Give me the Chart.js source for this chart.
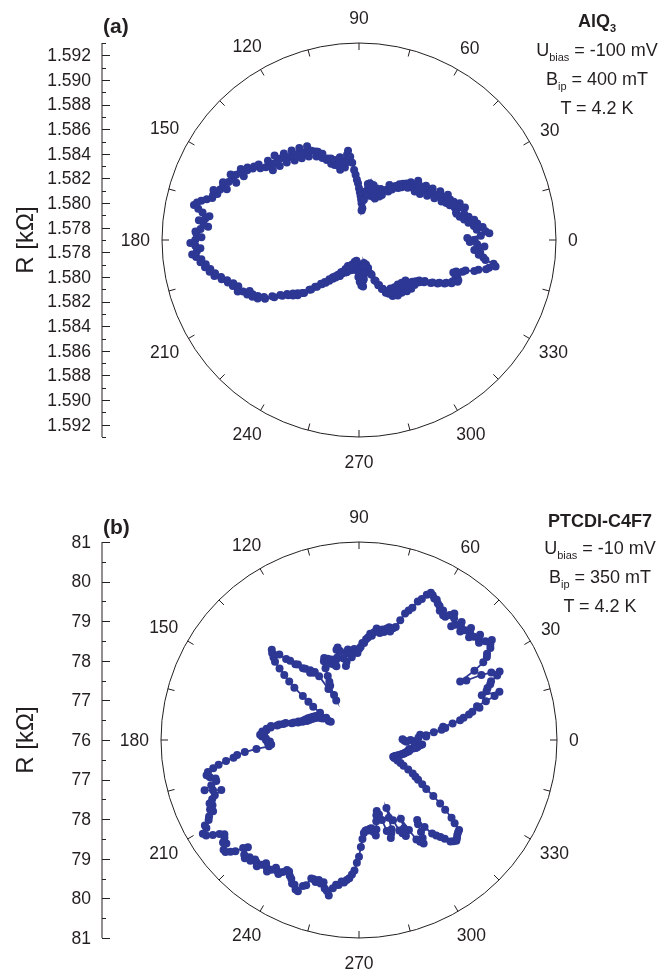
<!DOCTYPE html>
<html>
<head>
<meta charset="utf-8">
<script src="https://cdn.jsdelivr.net/npm/chart.js@4.4.1/dist/chart.umd.min.js"></script>
<style>
  body { margin: 0; background: #fff; }
  #page { position: relative; width: 660px; height: 969px; font-family: "Liberation Sans", Arial, sans-serif; color: #231f20; }
  canvas { position: absolute; left: 0; }
  .tag { position: absolute; font-weight: bold; font-size: 21px; line-height: 24px; }
  .note { position: absolute; width: 160px; text-align: center; font-size: 18px; line-height: 27px; white-space: nowrap; }
  .note sub { font-size: 11px; position: relative; top: 5px; vertical-align: baseline; }
</style>
</head>
<body>
<div id="page">
  <canvas id="chartA" width="660" height="485" style="top:0"></canvas>
  <canvas id="chartB" width="660" height="484" style="top:485px"></canvas>
  <div class="tag" style="left:103px; top:14px">(a)</div>
  <div class="tag" style="left:103px; top:515px">(b)</div>
  <div class="note" style="left:517px; top:8px">
    <b>AlQ<sub>3</sub></b><br>U<sub>bias</sub> = -100 mV<br>B<sub>ip</sub> = 400 mT<br>T = 4.2 K
  </div>
  <div class="note" style="left:520px; top:508px">
    <b>PTCDI-C4F7</b><br>U<sub>bias</sub> = -10 mV<br>B<sub>ip</sub> = 350 mT<br>T = 4.2 K
  </div>
</div>
<script>
// measurement angles (deg), 1 degree steps
const angles = Array.from({ length: 360 }, (_, i) => i);

// (a) AlQ3, R in kOhm, 0..359 deg
const resA = [
  1.5864, 1.5858, 1.5869, 1.5876, 1.5873, 1.5866, 1.5871, 1.5864, 1.5867, 1.5860,
  1.5865, 1.5857, 1.5861, 1.5854, 1.5858, 1.5852, 1.5852, 1.5860, 1.5856, 1.5852,
  1.5857, 1.5849, 1.5853, 1.5847, 1.5851, 1.5844, 1.5848, 1.5851, 1.5846, 1.5840,
  1.5843, 1.5847, 1.5841, 1.5836, 1.5840, 1.5843, 1.5838, 1.5832, 1.5836, 1.5840,
  1.5835, 1.5830, 1.5836, 1.5831, 1.5834, 1.5838, 1.5833, 1.5828, 1.5833, 1.5829,
  1.5830, 1.5825, 1.5828, 1.5823, 1.5826, 1.5822, 1.5823, 1.5819, 1.5820, 1.5816,
  1.5817, 1.5821, 1.5816, 1.5811, 1.5814, 1.5809, 1.5812, 1.5815, 1.5810, 1.5806,
  1.5810, 1.5814, 1.5809, 1.5807, 1.5811, 1.5816, 1.5812, 1.5807, 1.5811, 1.5817,
  1.5813, 1.5816, 1.5810, 1.5803, 1.5796, 1.5794, 1.5800, 1.5803, 1.5806, 1.5809,
  1.5812, 1.5816, 1.5819, 1.5823, 1.5827, 1.5833, 1.5838, 1.5843, 1.5840, 1.5834,
  1.5835, 1.5830, 1.5834, 1.5839, 1.5836, 1.5829, 1.5833, 1.5838, 1.5834, 1.5840,
  1.5836, 1.5841, 1.5840, 1.5846, 1.5843, 1.5849, 1.5850, 1.5846, 1.5852, 1.5857,
  1.5853, 1.5849, 1.5854, 1.5859, 1.5855, 1.5851, 1.5856, 1.5861, 1.5857, 1.5853,
  1.5858, 1.5863, 1.5860, 1.5856, 1.5862, 1.5867, 1.5862, 1.5858, 1.5863, 1.5868,
  1.5864, 1.5860, 1.5866, 1.5872, 1.5869, 1.5874, 1.5874, 1.5878, 1.5877, 1.5882,
  1.5881, 1.5877, 1.5883, 1.5887, 1.5884, 1.5880, 1.5886, 1.5890, 1.5889, 1.5885,
  1.5890, 1.5895, 1.5891, 1.5894, 1.5894, 1.5898, 1.5902, 1.5905, 1.5907, 1.5903,
  1.5899, 1.5893, 1.5896, 1.5901, 1.5897, 1.5893, 1.5899, 1.5903, 1.5902, 1.5898,
  1.5903, 1.5907, 1.5903, 1.5899, 1.5902, 1.5906, 1.5903, 1.5899, 1.5900, 1.5896,
  1.5897, 1.5893, 1.5894, 1.5890, 1.5891, 1.5886, 1.5886, 1.5882, 1.5882, 1.5878,
  1.5879, 1.5875, 1.5876, 1.5877, 1.5873, 1.5868, 1.5871, 1.5867, 1.5868, 1.5864,
  1.5865, 1.5860, 1.5860, 1.5854, 1.5853, 1.5848, 1.5847, 1.5843, 1.5843, 1.5839,
  1.5840, 1.5836, 1.5837, 1.5833, 1.5832, 1.5827, 1.5826, 1.5822, 1.5821, 1.5817,
  1.5817, 1.5814, 1.5814, 1.5810, 1.5811, 1.5807, 1.5808, 1.5805, 1.5806, 1.5803,
  1.5804, 1.5800, 1.5803, 1.5799, 1.5800, 1.5796, 1.5796, 1.5793, 1.5794, 1.5798,
  1.5793, 1.5796, 1.5792, 1.5796, 1.5791, 1.5795, 1.5790, 1.5795, 1.5792, 1.5788,
  1.5789, 1.5794, 1.5790, 1.5787, 1.5788, 1.5792, 1.5791, 1.5795, 1.5795, 1.5800,
  1.5800, 1.5804, 1.5803, 1.5807, 1.5806, 1.5808, 1.5803, 1.5802, 1.5798, 1.5797,
  1.5792, 1.5792, 1.5789, 1.5792, 1.5790, 1.5794, 1.5791, 1.5795, 1.5794, 1.5799,
  1.5800, 1.5805, 1.5806, 1.5810, 1.5810, 1.5814, 1.5814, 1.5818, 1.5817, 1.5820,
  1.5819, 1.5823, 1.5820, 1.5817, 1.5821, 1.5825, 1.5822, 1.5818, 1.5821, 1.5825,
  1.5822, 1.5818, 1.5823, 1.5827, 1.5822, 1.5819, 1.5824, 1.5828, 1.5823, 1.5820,
  1.5824, 1.5828, 1.5825, 1.5828, 1.5827, 1.5830, 1.5829, 1.5833, 1.5833, 1.5838,
  1.5839, 1.5843, 1.5844, 1.5848, 1.5849, 1.5853, 1.5853, 1.5857, 1.5857, 1.5854,
  1.5855, 1.5851, 1.5853, 1.5858, 1.5860, 1.5867, 1.5870, 1.5876, 1.5878, 1.5883,
  1.5881, 1.5874, 1.5872, 1.5868, 1.5869, 1.5864, 1.5868, 1.5872, 1.5866, 1.5860
];

// (b) PTCDI-C4F7, R in kOhm, 0..359 deg
const resB = [
  77.3, 77.1, 77.5, 77.7, 77.7, 77.55, 77.9, 78.1, 78.2, 78.15,
  78.4, 78.6, 78.7, 78.85, 78.95, 79.15, 79.1, 79.35, 79.6, 79.75,
  79.3, 79.45, 79.5, 79.6, 79.65, 79.85, 79.95, 79.75, 79.5, 79.1,
  78.95, 79.4, 79.7, 79.85, 79.9, 80.05, 80.1, 80.2, 80.05, 79.9,
  79.95, 80.05, 79.9, 79.8, 79.9, 80.0, 79.85, 79.75, 79.85, 79.95,
  79.8, 79.7, 79.9, 80.0, 79.9, 79.8, 79.8, 79.9, 79.85, 79.95,
  79.98, 80.05, 80.05, 80.1, 80.14, 80.05, 79.9, 79.8, 79.6, 79.5,
  79.4, 79.2, 79.0, 78.95, 78.85, 78.95, 78.9, 78.8, 78.85, 78.75,
  78.8, 78.85, 78.75, 78.65, 78.7, 78.6, 78.55, 78.45, 78.45, 78.35,
  78.3, 78.2, 78.25, 78.3, 78.2, 78.1, 78.2, 78.3, 78.22, 78.0,
  77.9, 78.1, 78.3, 78.4, 78.35, 78.15, 78.1, 77.95, 78.0, 78.15,
  78.05, 78.2, 78.15, 78.25, 78.18, 78.0, 77.8, 77.65, 77.55, 77.3,
  77.15, 77.5, 77.9, 78.05, 78.05, 78.15, 78.1, 78.25, 78.3, 78.45,
  78.5, 78.65, 78.75, 78.95, 79.17, 79.1, 79.0, 78.9, 78.7, 78.5,
  78.3, 78.1, 77.8, 77.6, 77.43, 77.2, 77.0, 76.85, 76.9, 77.05,
  77.1, 77.25, 77.2, 77.3, 77.25, 77.35, 77.3, 77.4, 77.35, 77.45,
  77.4, 77.5, 77.5, 77.6, 77.6, 77.7, 77.75, 77.9, 77.95, 78.05,
  78.1, 78.25, 78.25, 78.35, 78.35, 78.45, 78.4, 78.5, 78.45, 78.35,
  78.35, 78.25, 78.3, 78.22, 78.28, 78.6, 78.9, 79.1, 79.2, 79.4,
  79.6, 79.75, 79.9, 79.95, 79.88, 79.75, 79.75, 79.9, 80.1, 79.9,
  79.7, 79.9, 80.0, 80.1, 80.05, 80.15, 80.1, 80.25, 80.3, 80.45,
  80.45, 80.6, 80.55, 80.4, 80.25, 80.15, 80.2, 80.3, 80.25, 80.4,
  80.4, 80.3, 80.2, 80.0, 79.9, 80.1, 80.15, 80.05, 80.1, 80.0,
  80.03, 80.1, 80.0, 79.9, 79.97, 80.05, 79.95, 79.85, 79.9, 79.95,
  79.85, 79.75, 79.76, 79.85, 79.9, 80.0, 80.0, 80.1, 80.12, 79.95,
  79.9, 79.7, 79.7, 79.75, 79.68, 79.75, 79.7, 79.85, 79.9, 80.0,
  79.8, 79.7, 79.7, 79.6, 79.62, 79.55, 79.5, 79.4, 79.3, 79.1,
  78.95, 78.7, 78.5, 78.35, 78.3, 78.28, 78.3, 78.26, 78.25, 78.35,
  78.45, 78.3, 78.1, 77.95, 77.85, 77.95, 78.1, 78.4, 78.6, 78.5,
  78.4, 78.1, 77.85, 78.2, 78.5, 78.6, 78.7, 78.5, 78.25, 78.6,
  78.9, 79.0, 79.08, 78.95, 78.8, 78.6, 78.5, 78.75, 79.0, 79.1,
  79.2, 79.3, 79.45, 79.5, 79.54, 79.5, 79.45, 79.42, 79.4, 79.2,
  79.05, 78.8, 78.6, 78.35, 78.1, 77.95, 77.8, 77.7, 77.6, 77.45,
  77.3, 77.2, 77.1, 77.0, 76.96, 76.98, 77.0, 77.02, 77.05, 77.08,
  77.1, 77.12, 77.15, 77.18, 77.2, 77.22, 77.24, 77.28, 77.3, 77.28,
  77.3, 77.38, 77.45, 77.48, 77.5, 77.55, 77.6, 77.4, 77.2, 77.15
];

// axis ticks
const angleLabels = [0, 30, 60, 90, 120, 150, 180, 210, 240, 270, 300, 330];
const rTicksA = [1.578, 1.580, 1.582, 1.584, 1.586, 1.588, 1.590, 1.592];
const rMinorA = [1.577, 1.579, 1.581, 1.583, 1.585, 1.587, 1.589, 1.591, 1.593];
const rTicksB = [76, 77, 78, 79, 80, 81];
const rMinorB = [76.5, 77.5, 78.5, 79.5, 80.5];

const INK = '#231f20';
const DOT = '#2d3794';
const FONT = '"Liberation Sans", Arial, sans-serif';

// radar goes clockwise from startAngle, so feed it 0, 359, 358, ...
function ccw(arr) {
  return [arr[0]].concat(arr.slice(1).reverse());
}

const polarFrame = {
  id: 'polarFrame',
  beforeDatasetsDraw(chart, args, o) {
    const s = chart.scales.r;
    const ctx = chart.ctx;
    const cx = s.xCenter, cy = s.yCenter, R = s.drawingArea;
    ctx.save();
    ctx.strokeStyle = INK;
    ctx.fillStyle = INK;
    ctx.lineWidth = 1;

    // outer circle
    ctx.beginPath();
    ctx.arc(cx, cy, R, 0, Math.PI * 2);
    ctx.stroke();

    // angular ticks every 15 deg, pointing in
    for (let a = 0; a < 360; a += 15) {
      const t = a * Math.PI / 180;
      const c = Math.cos(t), sn = Math.sin(t);
      ctx.beginPath();
      ctx.moveTo(cx + c * R, cy - sn * R);
      ctx.lineTo(cx + c * (R - 7), cy - sn * (R - 7));
      ctx.stroke();
    }

    // angle labels
    ctx.font = '17.5px ' + FONT;
    ctx.textAlign = 'center';
    ctx.textBaseline = 'middle';
    angleLabels.forEach(a => {
      const txt = String(a);
      const w = ctx.measureText(txt).width;
      const t = a * Math.PI / 180;
      const d = R + 22 + (w - 20) / 2 * Math.abs(Math.cos(t)) + 3 * Math.abs(Math.sin(t));
      ctx.fillText(txt, cx + d * Math.cos(t), cy - d * Math.sin(t) + 1);
    });

    // mirrored R axis on the left
    const ax = o.axisX;
    ctx.beginPath();
    ctx.moveTo(ax, cy - R);
    ctx.lineTo(ax, cy + R);
    ctx.stroke();
    const tick = (v, len) => {
      const off = s.getDistanceFromCenterForValue(v);
      [cy - off, cy + off].forEach(y => {
        ctx.beginPath();
        ctx.moveTo(ax, Math.round(y) + 0.5);
        ctx.lineTo(ax + len, Math.round(y) + 0.5);
        ctx.stroke();
      });
    };
    o.minor.forEach(v => tick(v, 4));
    ctx.textAlign = 'right';
    o.major.forEach(v => {
      tick(v, 8);
      const off = s.getDistanceFromCenterForValue(v);
      const txt = v.toFixed(o.decimals);
      if (off < 1) {
        ctx.fillText(txt, ax - 11, cy + 1);
      } else {
        ctx.fillText(txt, ax - 11, cy - off + 1);
        ctx.fillText(txt, ax - 11, cy + off + 1);
      }
    });

    // axis title
    ctx.save();
    ctx.translate(26, cy);
    ctx.rotate(-Math.PI / 2);
    ctx.textAlign = 'center';
    ctx.font = '24px ' + FONT;
    ctx.fillText('R [k\u03A9]', 0, 0);
    ctx.restore();

    ctx.restore();
  }
};

function makePolar(id, values, rMin, rMax, pad, axis) {
  return new Chart(document.getElementById(id), {
    type: 'radar',
    data: {
      labels: ccw(angles),
      datasets: [{
        data: ccw(values),
        borderColor: DOT,
        borderWidth: 1.8,
        backgroundColor: DOT,
        pointBackgroundColor: DOT,
        pointBorderWidth: 0,
        pointRadius: 4,
        fill: false
      }]
    },
    options: {
      responsive: false,
      animation: false,
      layout: { padding: pad },
      plugins: {
        legend: { display: false },
        tooltip: { enabled: false },
        polarFrame: axis
      },
      scales: {
        r: {
          min: rMin,
          max: rMax,
          startAngle: 90,
          grid: { display: false },
          angleLines: { display: false },
          ticks: { display: false },
          pointLabels: { display: false }
        }
      }
    },
    plugins: [polarFrame]
  });
}

makePolar('chartA', resA, 1.577, 1.593,
  { left: 162, right: 104, top: 43, bottom: 48 },
  { axisX: 102, major: rTicksA, minor: rMinorA, decimals: 3 });

makePolar('chartB', resB, 76, 81,
  { left: 161, right: 103, top: 57, bottom: 31 },
  { axisX: 102, major: rTicksB, minor: rMinorB, decimals: 0 });
</script>
</body>
</html>
